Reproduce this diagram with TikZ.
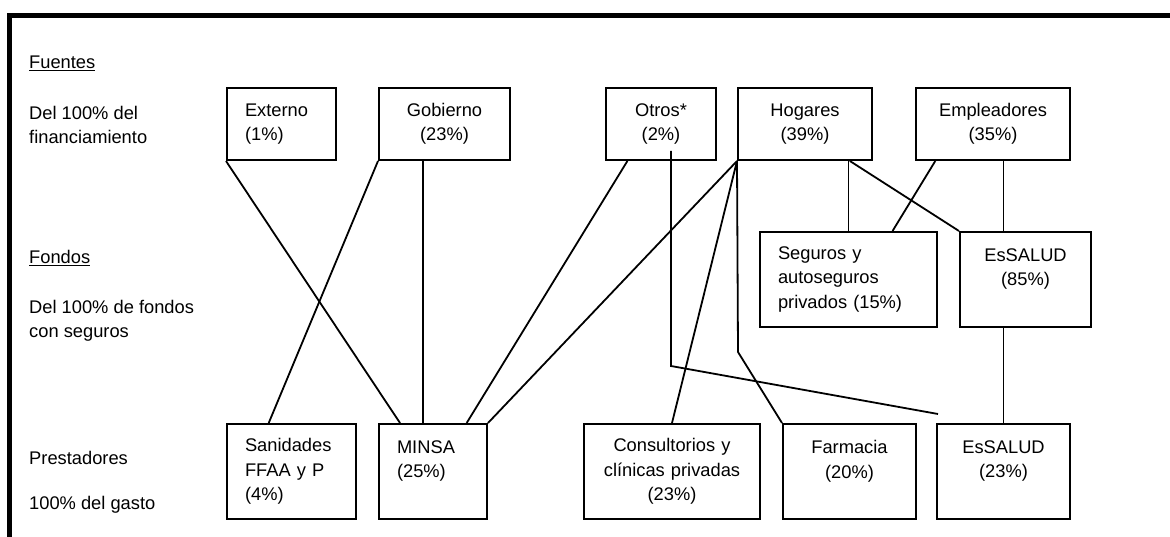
\documentclass[tikz,border=0pt]{standalone}
\usepackage{fontspec}
\setmainfont{Liberation Sans}
\usetikzlibrary{calc}
\begin{document}
\begin{tikzpicture}[x=1pt,y=-1pt,
  etiqueta/.style={anchor=west,align=left,inner sep=0pt,font=\fontsize{18.3}{24}\selectfont},
  caja/.style={draw,line width=2pt,inner ysep=0pt,minimum height=72pt,font=\fontsize{18.3}{24.5}\selectfont},
  izq/.style={caja,align=left,inner xsep=18pt},
  cen/.style={caja,align=center,inner xsep=6pt},
  baja/.style={minimum height=95pt},
  linea/.style={line width=1.8pt}]

  \useasboundingbox (0,0) rectangle (1170,537);
  \draw[line width=5pt] (9.5,545) -- (9.5,15.5) -- (1180,15.5);

  \draw node[etiqueta] at (29,63) {\underline{Fuentes}};
  \draw node[etiqueta] at (29,125) {Del 100\% del\\financiamiento};
  \draw node[etiqueta] at (29,258) {\underline{Fondos}};
  \draw node[etiqueta] at (29,321) {Del 100\% de fondos\\con seguros};
  \draw node[etiqueta] at (29,458) {Prestadores};
  \draw node[etiqueta] at (29,505) {100\% del gasto};

  \node[izq,text width=73pt] (externo) at (281.5,124) {Externo\\(1\%)};
  \node[cen,text width=119pt] (gobierno) at (444.5,124) {Gobierno\\(23\%)};
  \node[cen,text width=98pt] (otros) at (661,124) {Otros*\\(2\%)};
  \node[cen,text width=122pt] (hogares) at (805,124) {Hogares\\(39\%)};
  \node[cen,text width=142pt] (empleadores) at (993,124) {Empleadores\\(35\%)};

  \node[izq,baja,text width=141pt] (seguros) at (848.5,279.5) {Seguros y\\autoseguros\\privados (15\%)};
  \node[cen,baja,text width=119pt] (essalud85) at (1025.5,279.5) {EsSALUD\\(85\%)\\\mbox{}};

  \node[izq,baja,text width=93pt] (sanidades) at (291.5,471.5) {Sanidades\\FFAA y P\\(4\%)};
  \node[izq,baja,text width=72pt] (minsa) at (433,471.5) {MINSA\\(25\%)\\\mbox{}};
  \node[cen,baja,text width=164pt] (consultorios) at (672,471.5) {Consultorios y\\clínicas privadas\\(23\%)};
  \node[cen,baja,text width=121pt] (farmacia) at (849.5,471.5) {Farmacia\\(20\%)\\\mbox{}};
  \node[cen,baja,text width=121pt] (essalud23) at (1003.5,471.5) {EsSALUD\\(23\%)\\\mbox{}};

  \coordinate (hcodo) at (738,352);
  \coordinate (oini) at ($(otros.south)+(10,-10)$);
  \coordinate (ocodo) at (671,366);
  \coordinate (ofin) at (938,414);

  \draw[linea] (externo.south west) -- ($(minsa.north west)!0.2!(minsa.north east)$);
  \draw[linea] (gobierno.south west) -- ($(sanidades.north west)!0.326!(sanidades.north east)$);
  \draw[linea] ($(gobierno.south west)!0.336!(gobierno.south east)$) coordinate (gbaja) -- (gbaja |- minsa.north);
  \draw[linea] ($(otros.south west)!0.2!(otros.south east)$) -- ($(minsa.north west)!0.806!(minsa.north east)$);
  \draw[linea] (oini) -- (ocodo) -- (ofin);
  \draw[linea] (hogares.south west) -- (minsa.north east);
  \draw[linea] (hogares.south west) -- (consultorios.north);
  \draw[linea] (hogares.south west) -- (hcodo) -- (farmacia.north west);
  \draw[linea] (hogares.south -| seguros.north) -- (seguros.north);
  \draw[linea] ($(hogares.south west)!0.83!(hogares.south east)$) -- (essalud85.north west);
  \draw[linea] ($(empleadores.south west)!0.13!(empleadores.south east)$) -- ($(seguros.north west)!0.746!(seguros.north east)$);
  \draw[linea] (empleadores.south -| essalud23.north) -- (essalud85.north -| essalud23.north);
  \draw[linea] (essalud85.south -| essalud23.north) -- (essalud23.north);

\end{tikzpicture}
\end{document}
